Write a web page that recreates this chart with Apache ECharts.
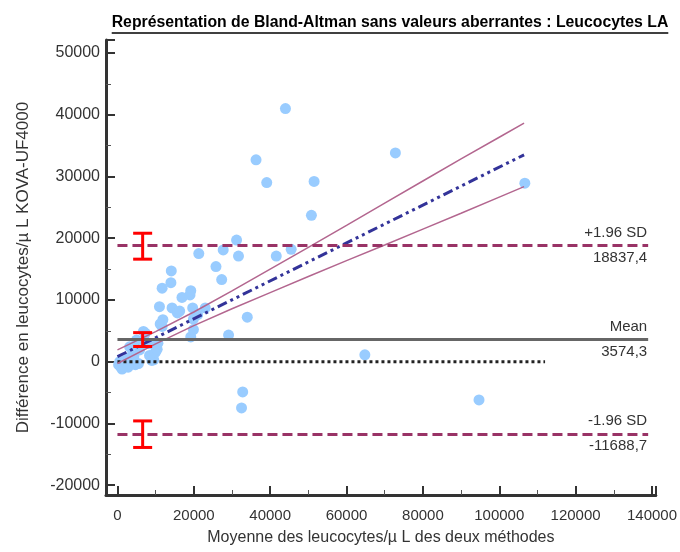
<!DOCTYPE html>
<html>
<head>
<meta charset="utf-8">
<script src="https://cdn.jsdelivr.net/npm/echarts@6/dist/echarts.min.js"></script>
<style>
html, body { margin: 0; padding: 0; background: #fff; }
#main { width: 680px; height: 552px; }
</style>
</head>
<body>
<div id="main"></div>
<script>
var titleText = "Représentation de Bland-Altman sans valeurs aberrantes : Leucocytes LA";

// moyenne des deux méthodes (x) et différence KOVA-UF4000 (y)
var avgValues = [300, 600, 800, 1200, 1500, 1800, 2000, 2500, 2800, 3000,
    3200, 3800, 4300, 4700, 5000, 5500, 5800, 6000, 6800, 7300,
    8400, 8400, 9000, 9500, 9900, 10400, 10600, 11000, 11200, 11700,
    11700, 11900, 14000, 14100, 14300, 15700, 16300, 16900, 19000, 19200,
    19200, 19700, 19900, 19900, 21000, 21300, 23000, 25800, 27300, 27700,
    29100, 31200, 31700, 32500, 32800, 34000, 36300, 39100, 41600, 44000,
    45500, 50800, 51500, 64800, 72800, 94700, 106700];
var diffValues = [-500, 0, -800, -1200, -300, -700, 200, -400, -900, 600,
    2400, 1000, 800, -500, 3500, -300, 1900, 3300, 4900, 4600,
    2900, 1000, 200, 300, 1500, 2000, 3000, 8900, 6100, 11900,
    5700, 6800, 12800, 14700, 8700, 7900, 8200, 10400, 10800, 11500,
    4000, 8700, 6900, 5200, 7600, 17500, 8700, 15400, 13300, 18100,
    4300, 19700, 17100, -7500, -4900, 7200, 32700, 29000, 17100, 41000,
    18200, 23700, 29200, 1100, 33800, -6200, 28900];

// moyenne et limites d'agrément
var meanDiff = 3574.3;
var upperLimit = 18837.4;
var lowerLimit = -11688.7;
var levelRange = [0, 139000];
var zeroRange = [0, 112000];

// droite de régression et intervalle de confiance
var regX = [0, 106500];
var regY = [800, 33500];
var bandX = [0, 10000, 20000, 30000, 40000, 50000, 60000, 70000, 80000, 90000, 100000, 106500];
var bandUpper = [1900, 4870, 8040, 11460, 14980, 18500, 22070, 25690, 29260, 32830, 36350, 38650];
var bandLower = [-300, 2870, 5840, 8560, 11180, 13800, 16370, 18890, 21460, 24030, 26650, 28350];

// barres d'erreur (IC des limites et de la moyenne)
var errX = [6600, 6600, 6600];
var errLow = [16600, 2450, -13900];
var errHigh = [20800, 4700, -9600];

var FONT = '"Liberation Sans", Arial, sans-serif';

function zip(a, b) {
    return a.map(function (v, i) { return [v, b[i]]; });
}
function frNum(v) {
    return v.toFixed(1).replace('.', ',');
}

function levelSeries(value, topText, color, dash, width) {
    var lbl = { color: '#333', fontSize: 15, fontFamily: FONT, distance: [1, 5] };
    return {
        type: 'line',
        data: [],
        silent: true,
        markLine: {
            silent: true,
            symbol: 'none',
            animation: false,
            lineStyle: { color: color, type: dash, width: width },
            data: [
                [{ coord: [levelRange[0], value],
                   label: Object.assign({ show: true, position: 'insideEndTop', formatter: topText }, lbl) },
                 { coord: [levelRange[1], value] }],
                [{ coord: [levelRange[0], value], lineStyle: { color: 'rgba(0,0,0,0)' },
                   label: Object.assign({ show: true, position: 'insideEndBottom', formatter: frNum(value) }, lbl) },
                 { coord: [levelRange[1], value] }]
            ]
        }
    };
}

var ctx = document.createElement('canvas').getContext('2d');
ctx.font = 'bold 15.8px ' + FONT;
var titleW = ctx.measureText(titleText).width;
var titleLeft = 390 - titleW / 2;

var dom = document.getElementById('main');
var chart = echarts.init(dom);
var option = {
    animation: false,
    backgroundColor: '#fff',
    title: {
        text: titleText,
        left: titleLeft,
        top: 15,
        padding: 0,
        textStyle: { color: '#000', fontSize: 15.8, fontWeight: 'bold', fontFamily: FONT }
    },
    graphic: [{
        type: 'line',
        shape: { x1: titleLeft, y1: 33, x2: titleLeft + titleW, y2: 33 },
        style: { stroke: '#000', lineWidth: 1.5 }
    }],
    grid: { left: 106, right: 20, top: 40, bottom: 57 },
    xAxis: {
        type: 'value',
        min: -3000,
        max: 141000,
        splitNumber: 7,
        name: 'Moyenne des leucocytes/µ L des deux méthodes',
        nameLocation: 'middle',
        nameGap: 35,
        nameTextStyle: { color: '#333', fontSize: 16, fontFamily: FONT },
        axisLine: { onZero: false, lineStyle: { color: '#333', width: 3 } },
        axisTick: { inside: true, length: 9, lineStyle: { color: '#333', width: 2 } },
        minorTick: { show: true, splitNumber: 2, length: 5, lineStyle: { color: '#555', width: 1 } },
        splitLine: { show: false },
        axisLabel: {
            color: '#333', fontSize: 15, fontFamily: FONT, margin: 13,
            formatter: function (v) { return v % 20000 === 0 ? String(v) : ''; }
        }
    },
    yAxis: {
        type: 'value',
        min: -21600,
        max: 52100,
        splitNumber: 7,
        name: 'Différence en leucocytes/µ L KOVA-UF4000',
        nameLocation: 'middle',
        nameGap: 74,
        nameTextStyle: { color: '#333', fontSize: 17, fontFamily: FONT },
        axisLine: { onZero: false, lineStyle: { color: '#333', width: 3 } },
        axisTick: { inside: true, length: 9, lineStyle: { color: '#333', width: 2 } },
        minorTick: { show: true, splitNumber: 2, length: 5, lineStyle: { color: '#555', width: 1 } },
        splitLine: { show: false },
        axisLabel: {
            color: '#333', fontSize: 16, fontFamily: FONT, margin: 6,
            formatter: function (v) { return v % 10000 === 0 ? String(v) : ''; }
        }
    },
    series: [
        {
            type: 'scatter',
            data: zip(avgValues, diffValues),
            symbolSize: 11,
            itemStyle: { color: '#99ccff', opacity: 1 },
            z: 1
        },
        {
            type: 'line',
            data: zip(zeroRange, [0, 0]),
            symbol: 'none',
            lineStyle: { color: '#222', width: 3, type: [3, 3] },
            z: 2
        },
        levelSeries(meanDiff, 'Mean', '#666', 'solid', 3),
        levelSeries(upperLimit, '+1.96 SD', '#993366', [10, 5], 3),
        levelSeries(lowerLimit, '-1.96 SD', '#993366', [10, 5], 3),
        {
            type: 'line',
            data: zip(bandX, bandUpper),
            symbol: 'none',
            lineStyle: { color: '#b3668f', width: 1.5 },
            z: 3
        },
        {
            type: 'line',
            data: zip(bandX, bandLower),
            symbol: 'none',
            lineStyle: { color: '#b3668f', width: 1.5 },
            z: 3
        },
        {
            type: 'line',
            data: zip(regX, regY),
            symbol: 'none',
            lineStyle: { color: '#333399', width: 3, type: [10, 4, 3, 4, 3, 4] },
            z: 4
        },
        {
            type: 'custom',
            data: errX.map(function (x, i) { return [x, errLow[i], errHigh[i]]; }),
            encode: { x: 0, y: [1, 2] },
            z: 5,
            renderItem: function (params, api) {
                var x = api.value(0);
                var lo = api.coord([x, api.value(1)]);
                var hi = api.coord([x, api.value(2)]);
                var w = 9.5;
                var style = { stroke: '#ff0000', lineWidth: 3 };
                return {
                    type: 'group',
                    children: [
                        { type: 'line', shape: { x1: lo[0], y1: lo[1], x2: hi[0], y2: hi[1] }, style: style },
                        { type: 'line', shape: { x1: lo[0] - w, y1: lo[1], x2: lo[0] + w, y2: lo[1] }, style: style },
                        { type: 'line', shape: { x1: hi[0] - w, y1: hi[1], x2: hi[0] + w, y2: hi[1] }, style: style }
                    ]
                };
            }
        }
    ]
};
chart.setOption(option);
</script>
</body>
</html>
